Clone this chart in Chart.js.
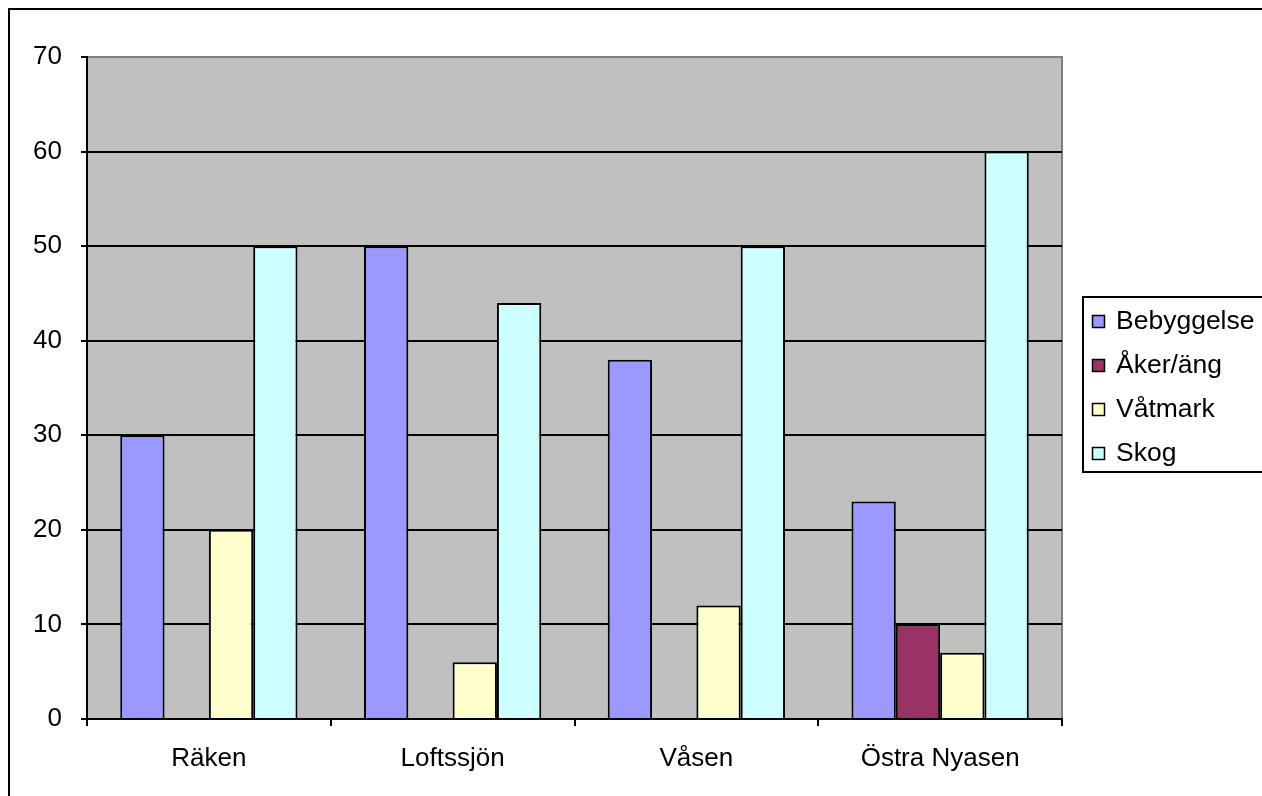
<!DOCTYPE html>
<html>
<head>
<meta charset="utf-8">
<script src="https://cdn.jsdelivr.net/npm/chart.js@4/dist/chart.umd.min.js"></script>
<style>
html,body{margin:0;padding:0;background:#fff;}
canvas{display:block;}
</style>
</head>
<body>
<canvas id="c" width="1262" height="796"></canvas>
<script>
const categories = ['Räken', 'Loftssjön', 'Våsen', 'Östra Nyasen'];
const seriesNames = ['Bebyggelse', 'Åker/äng', 'Våtmark', 'Skog'];
const bebyggelse = [30, 50, 38, 23];
const akerAng = [0, 0, 0, 10];
const vatmark = [20, 6, 12, 7];
const skog = [50, 44, 50, 60];
const seriesColors = ['#9999FF', '#993366', '#FFFFCC', '#CCFFFF'];
const yTicks = [0, 10, 20, 30, 40, 50, 60, 70];

const FONT = "'Liberation Sans', Arial, sans-serif";

const frame = {
  id: 'frame',
  beforeDraw(chart) {
    const ctx = chart.ctx, a = chart.chartArea;
    ctx.save();
    ctx.fillStyle = '#fff';
    ctx.fillRect(0, 0, chart.width, chart.height);
    ctx.strokeStyle = '#000';
    ctx.lineWidth = 2;
    ctx.strokeRect(9, 9, chart.width + 50, chart.height + 50);
    ctx.fillStyle = '#C0C0C0';
    ctx.fillRect(a.left, a.top, a.right - a.left, a.bottom - a.top);
    ctx.strokeStyle = '#808080';
    ctx.lineWidth = 2;
    ctx.beginPath();
    ctx.moveTo(a.left, a.top);
    ctx.lineTo(a.right, a.top);
    ctx.lineTo(a.right, a.bottom);
    ctx.stroke();
    ctx.restore();
  },
  afterDraw(chart) {
    const ctx = chart.ctx;
    ctx.save();
    ctx.strokeStyle = '#000';
    ctx.lineWidth = 2;
    ctx.strokeRect(1083, 297, 300, 175);
    ctx.font = '26.5px ' + FONT;
    ctx.textBaseline = 'middle';
    ctx.textAlign = 'left';
    chart.data.datasets.forEach((ds, i) => {
      const cy = 321 + i * 44;
      ctx.fillStyle = ds.backgroundColor;
      ctx.fillRect(1092, cy - 6, 13, 13);
      ctx.lineWidth = 1.5;
      ctx.strokeStyle = '#000';
      ctx.strokeRect(1092.5, cy - 5.5, 12, 12);
      ctx.fillStyle = '#000';
      ctx.fillText(ds.label, 1116, cy + 1);
    });
    ctx.restore();
  }
};

const seriesData = [bebyggelse, akerAng, vatmark, skog];

new Chart(document.getElementById('c'), {
  type: 'bar',
  data: {
    labels: categories,
    datasets: seriesNames.map((n, i) => ({
      label: n,
      data: seriesData[i],
      backgroundColor: seriesColors[i],
      borderColor: '#000',
      borderWidth: 2,
      categoryPercentage: 4 / 5.5,
      barPercentage: 1
    }))
  },
  options: {
    responsive: false,
    animation: false,
    layout: { padding: { top: 57, right: 200, bottom: 0, left: 0 } },
    plugins: { legend: { display: false }, tooltip: { enabled: false } },
    scales: {
      x: {
        afterFit(s) { s.height = 77; },
        grid: { offset: true, drawOnChartArea: false, tickLength: 7, tickColor: '#000', lineWidth: 2, color: '#000' },
        border: { display: true, color: '#000', width: 2 },
        ticks: { color: '#000', font: { family: FONT, size: 26 }, padding: 17, maxRotation: 0 }
      },
      y: {
        min: 0, max: 70,
        afterFit(s) { s.width = 87; },
        afterBuildTicks(s) { s.ticks = yTicks.map(v => ({ value: v })); },
        grid: {
          color: c => (c.tick && c.tick.value === 70) ? '#808080' : '#000',
          tickColor: '#000', lineWidth: 2, tickLength: 6
        },
        border: { display: true, color: '#000', width: 2 },
        ticks: { color: '#000', font: { family: FONT, size: 26 }, padding: 19 }
      }
    }
  },
  plugins: [frame]
});
</script>
</body>
</html>
